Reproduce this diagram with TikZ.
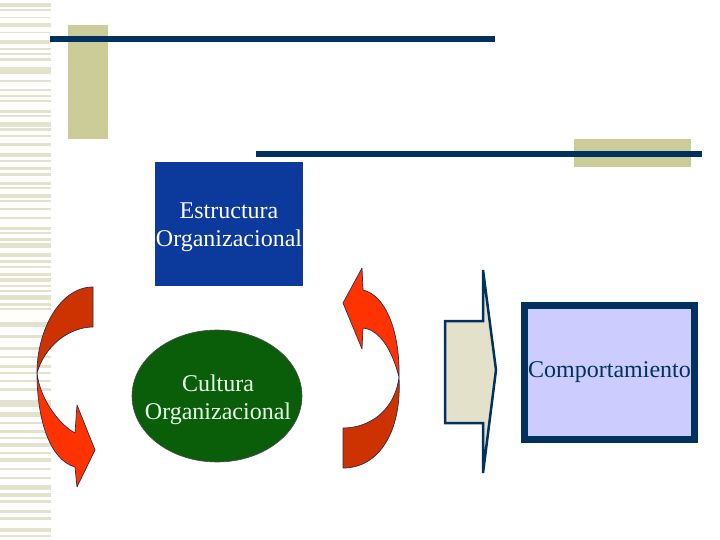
\documentclass[tikz,border=0pt]{standalone}
\usepackage{fontspec}
\setmainfont{Liberation Serif}
\usetikzlibrary{shapes.geometric}
\definecolor{navy}{HTML}{00315F}
\definecolor{tan}{HTML}{CCCC99}
\definecolor{stripe}{HTML}{E3E2CD}
\definecolor{boxblue}{HTML}{0B3A9C}
\definecolor{dkgreen}{HTML}{0A5E0A}
\definecolor{lav}{HTML}{CCCCFF}
\definecolor{darkred}{HTML}{CC3300}
\definecolor{brightred}{HTML}{FF3300}
\definecolor{arrowfill}{HTML}{E3E1C9}
\definecolor{edgeline}{HTML}{3A2A48}
\tikzset{
  bigtext/.style={font=\fontsize{24}{28}\selectfont, align=center},
  bar/.style={draw=navy, line cap=butt},
  ribbon/.style={draw=edgeline, line width=0.7pt, line join=round},
}
\begin{document}
\begin{tikzpicture}[x=1pt,y=-1pt]
\useasboundingbox (0,0) rectangle (720,540);
\fill[white] (0,0) rectangle (720,540);
% left stripes
\foreach \a/\b in {3/7,9/11,17/18.5,23/27,32/33.5,40/44,48/50,53/55,58/61,67/74,80/82,89/91,95/97,100/102,110/113,115/117,122/127,128/131,135/137,143/146,153/157,160/162,167/170,173/176,182/185,187/189,194/198,200/202,208/210,217/219,227/230,232/233.5,238/241,243/248,253/257,260/263,266/268,273/276,278/282,285/287,290/292,295/300,303/306,308/310,322/327,335/338,347/350,356/358,365/368,372/374,380/382,388/391,400/407,412/417,422/424,430/433,437/439,443/447,452/454,458/462,468/470,477/479,485/490,493/497,500/503,510/513,517/520,528/532,535/537}
  \fill[stripe] (0,\a) rectangle (51,\b);
% tan blocks
\fill[tan] (68,25) rectangle (108,139);
\fill[tan] (574,139) rectangle (691,167);
% navy bars
\draw[bar, line width=5.5pt] (50,39) -- (495,39);
\draw[bar, line width=6pt] (256,154) -- (702,154);
% nodes
\node[fill=boxblue, minimum width=148pt, minimum height=124pt, inner sep=0pt] (estr) at (229,224) {};
\node[text=white, bigtext, inner sep=0pt] (estrtext) at (229,227) {Estructura\\Organizacional};
\node[ellipse, fill=dkgreen, draw=black!70, line width=0.6pt, minimum width=170pt, minimum height=132pt, inner sep=0pt] (cult) at (217,396) {};
\node[text=white!92!green, bigtext, inner sep=0pt] (culttext) at (218,400) {Cultura\\Organizacional};
\node[draw=navy, line width=7pt, fill=lav, minimum width=170pt, minimum height=134pt, text=navy, bigtext, inner sep=0pt] (comp) at (609.5,372.5) {Comportamiento};
% left curved arrow
\filldraw[ribbon, fill=darkred] (93,287) .. controls (60,287) and (37,330) .. (37,373)
  .. controls (45,345) and (70,327) .. (93,327) -- cycle;
\filldraw[ribbon, fill=brightred] (37,373) .. controls (37,420) and (50,460) .. (75,467)
  -- (77,487) -- (95,450) -- (77,405) -- (75,433) .. controls (60,425) and (40,400) .. (37,373) -- cycle;
% right curved arrow
\filldraw[ribbon, fill=brightred] (363,290) .. controls (385,295) and (400,330) .. (399,377)
  .. controls (392,350) and (380,330) .. (363,328) -- (362,349) -- (343,303) -- (362,268) -- cycle;
\filldraw[ribbon, fill=darkred] (399,377) .. controls (402,430) and (380,468) .. (343,468)
  -- (343,428) .. controls (370,428) and (395,410) .. (399,377) -- cycle;
% block arrow
\filldraw[draw=navy, line width=2.5pt, fill=arrowfill, line join=miter]
  (445,321) -- (483,321) -- (483,270) -- (496,370) -- (483,473) -- (483,423) -- (445,423) -- cycle;
\end{tikzpicture}
\end{document}
